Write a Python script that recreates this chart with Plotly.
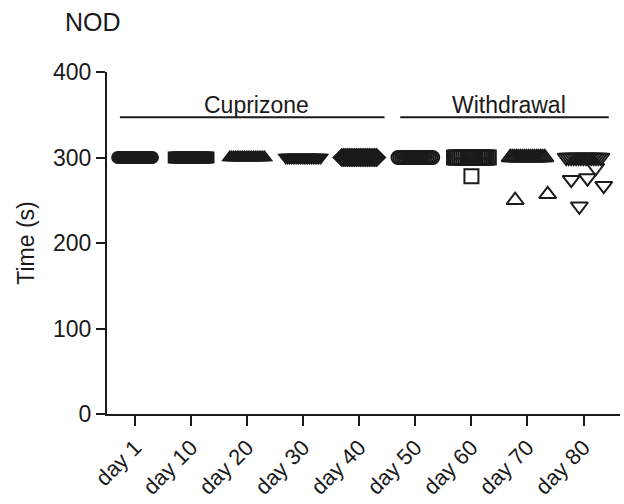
import numpy as np
import plotly.graph_objects as go

# ---------------- data ----------------
categories = ["day 1", "day 10", "day 20", "day 30", "day 40",
              "day 50", "day 60", "day 70", "day 80"]

day1 = [300] * 20
day10 = [300] * 20
day20 = [300] * 20
day30 = [300] * 20
day40 = [300] * 20
day50 = [300] * 20
day60 = [300] * 19 + [278]
day70 = [300] * 18 + [250, 257]
day80 = [300] * 15 + [274, 243, 276, 288, 267]

groups = [day1, day10, day20, day30, day40, day50, day60, day70, day80]

period_names = ["Cuprizone", "Withdrawal"]
period_first = ["day 1", "day 50"]
period_last = ["day 40", "day 80"]

y_ticks = [0, 100, 200, 300, 400]

# ---------------- style ----------------
symbols = ["circle", "square", "triangle-up", "triangle-down", "diamond",
           "circle-open", "square-open", "triangle-up-open",
           "triangle-down-open"]
sizes = [13, 12, 15, 15, 15, 13, 14, 15, 15]
INK = "#1a1a1a"
FONT = "Liberation Sans, Arial, sans-serif"

fig = go.Figure()


def offsets_for(vals):
    """Deterministic scatter-dot layout: tied top values spread evenly,
    the remaining points spread across a narrower band."""
    vals = np.asarray(vals, dtype=float)
    top = vals.max()
    off = np.zeros(len(vals))
    idx_top = np.where(vals == top)[0]
    idx_low = np.where(vals != top)[0]
    if len(idx_top) > 1:
        off[idx_top] = np.linspace(-0.31, 0.31, len(idx_top))
    if len(idx_low) > 1:
        off[idx_low] = np.linspace(-0.22, 0.36, len(idx_low))
    return off


for i, (cat, vals) in enumerate(zip(categories, groups)):
    off = offsets_for(vals)
    xs = i + off
    open_sym = symbols[i].endswith("open")
    fig.add_trace(go.Scatter(
        x=xs, y=vals, mode="markers",
        marker=dict(symbol=symbols[i], size=sizes[i], color=INK,
                    line=dict(color=INK, width=2 if open_sym else 0)),
        showlegend=False, hoverinfo="skip"))
    # mean line
    m = float(np.mean(vals))
    fig.add_trace(go.Scatter(
        x=[i - 0.3, i + 0.3], y=[m, m], mode="lines",
        line=dict(color=INK, width=2), showlegend=False, hoverinfo="skip"))

# period brackets
bracket_y = 347
for name, a, b in zip(period_names, period_first, period_last):
    x0 = categories.index(a) - 0.27
    x1 = categories.index(b) + 0.45
    fig.add_trace(go.Scatter(
        x=[x0, x1], y=[bracket_y, bracket_y], mode="lines",
        line=dict(color=INK, width=2), showlegend=False, hoverinfo="skip"))
    fig.add_annotation(x=(x0 + x1) / 2 + 0.08, y=bracket_y, xref="x", yref="y",
                       text=name, showarrow=False, yanchor="bottom", yshift=-3,
                       font=dict(family=FONT, size=23, color=INK))

fig.update_layout(
    width=624, height=504,
    margin=dict(l=107, r=4, t=72, b=90),
    paper_bgcolor="white", plot_bgcolor="white",
    font=dict(family=FONT, color=INK),
    title=dict(text="NOD", x=65 / 624, xanchor="left", y=1 - 22 / 504,
               yanchor="middle", font=dict(family=FONT, size=25, color=INK)),
)

fig.update_xaxes(
    range=[-0.5, 8.65], tickmode="array",
    tickvals=list(range(len(categories))), ticktext=categories,
    tickangle=-45, ticks="outside", ticklen=10, tickwidth=2, tickcolor=INK,
    showline=True, linewidth=2, linecolor=INK, showgrid=False, zeroline=False,
    tickfont=dict(family=FONT, size=22, color=INK))

fig.update_yaxes(
    range=[0, 400], tickmode="array", tickvals=y_ticks,
    ticks="outside", ticklen=9, tickwidth=2, tickcolor=INK,
    showline=True, linewidth=2, linecolor=INK, showgrid=False, zeroline=False,
    tickfont=dict(family=FONT, size=23, color=INK),
    title=dict(text="Time (s)", font=dict(family=FONT, size=23, color=INK),
               standoff=12))

fig.write_html("out.html")
